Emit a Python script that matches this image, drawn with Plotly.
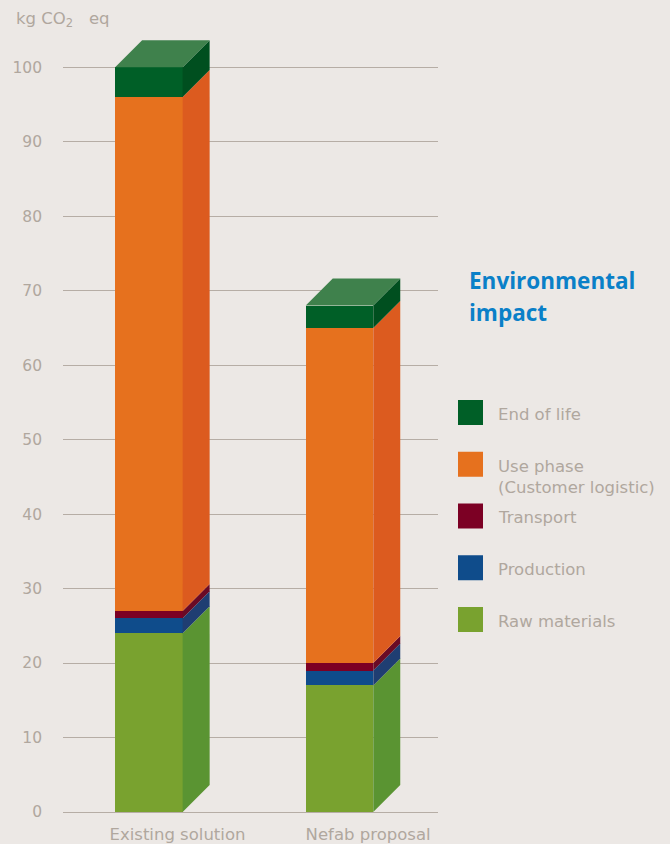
import plotly.graph_objects as go

# ---------------- data ----------------
categories = ["Existing solution", "Nefab proposal"]
components = ["Raw materials", "Production", "Transport",
              "Use phase<br>(Customer logistic)", "End of life"]
raw_materials = [24, 17]
production = [2, 2]
transport = [1, 1]
use_phase = [69, 45]
end_of_life = [4, 3]
y_tick_values = [0, 10, 20, 30, 40, 50, 60, 70, 80, 90, 100]

series = [raw_materials, production, transport, use_phase, end_of_life]

# ---------------- styles ----------------
front_colors = ["#79a22f", "#0f4c8b", "#7c0024", "#e6711e", "#005f27"]
side_colors = ["#5a9432", "#1f3e72", "#6a0a25", "#dc5b1f", "#004f1f"]
top_color = "#3f814c"
bg = "#ece8e5"
grid_col = "#b6ada5"
text_col = "#b0a79e"
title_col = "#0a80c8"
FONT = "DejaVu Sans"
TITLE_FONT = "Open Sans"

W, H = 670, 844
ML, MR, MT, MB = 63, 232, 30, 32
plot_w = W - ML - MR
plot_h = H - MT - MB
x_range = [-0.4507, 1.5168]
y_range = [0, 105]
px_per_x = plot_w / (x_range[1] - x_range[0])
px_per_y = plot_h / (y_range[1] - y_range[0])
bar_w = 67.5 / px_per_x
depth_x = 27 / px_per_x
depth_y = 27 / px_per_y
label_shift = 0.15

positions = list(range(len(categories)))

fig = go.Figure()

# front faces (stacked bars)
for name, vals, col in zip(components, series, front_colors):
    fig.add_trace(go.Bar(x=positions, y=vals, width=bar_w, name=name.replace("<br>", " "),
                         marker=dict(color=col, line=dict(width=0)),
                         showlegend=False, hoverinfo="skip"))

# side faces and top face (3D effect), computed from the data
for i, p in enumerate(positions):
    xr = p + bar_w / 2
    base = 0
    for vals, col in zip(series, side_colors):
        y0, y1 = base, base + vals[i]
        fig.add_trace(go.Scatter(
            x=[xr, xr + depth_x, xr + depth_x, xr, xr],
            y=[y0, y0 + depth_y, y1 + depth_y, y1, y0],
            fill="toself", fillcolor=col, mode="lines", line=dict(width=0, color=col),
            showlegend=False, hoverinfo="skip"))
        base = y1
    xl = p - bar_w / 2
    fig.add_trace(go.Scatter(
        x=[xl, xr, xr + depth_x, xl + depth_x, xl],
        y=[base, base, base + depth_y, base + depth_y, base],
        fill="toself", fillcolor=top_color, mode="lines", line=dict(width=0, color=top_color),
        showlegend=False, hoverinfo="skip"))


def px_x(px):
    return (px - ML) / plot_w


def px_y(py):
    return (H - MB - py) / plot_h


annotations = []
shapes = []

# axis unit label
annotations.append(dict(text="kg CO<sub>2</sub>&nbsp;&nbsp;&nbsp;eq", xref="paper", yref="paper",
                        x=px_x(14), y=px_y(20), xanchor="left", yanchor="middle",
                        showarrow=False, font=dict(family=FONT, size=16.5, color=text_col)))

# title
for line, cy in zip(["Environmental", "impact"], [280, 312]):
    annotations.append(dict(text=f"<b>{line}</b>", xref="paper", yref="paper",
                            x=px_x(467), y=px_y(cy), xanchor="left", yanchor="middle",
                            showarrow=False, font=dict(family=TITLE_FONT, size=22.5, color=title_col)))

# custom legend (top to bottom: End of life ... Raw materials)
sq_top0, sq_step, sq_size = 400, 51.75, 25
for k, idx in enumerate(reversed(range(len(components)))):
    top = sq_top0 + k * sq_step
    shapes.append(dict(type="rect", xref="paper", yref="paper",
                       x0=px_x(458), x1=px_x(458 + sq_size),
                       y0=px_y(top + sq_size), y1=px_y(top),
                       fillcolor=front_colors[idx], line=dict(width=0)))
    n_lines = components[idx].count("<br>") + 1
    cy = top + sq_size / 2 + 1.5 + (n_lines - 1) * 21.5 / 2
    annotations.append(dict(text=components[idx], xref="paper", yref="paper",
                            x=px_x(496), y=px_y(cy), xanchor="left", yanchor="middle",
                            align="left", showarrow=False,
                            font=dict(family=FONT, size=16.5, color=text_col)))

fig.update_layout(
    width=W, height=H, autosize=False,
    margin=dict(l=ML, r=MR, t=MT, b=MB, pad=0, autoexpand=False),
    paper_bgcolor=bg, plot_bgcolor=bg,
    barmode="stack", bargap=0,
    showlegend=False,
    annotations=annotations, shapes=shapes,
    xaxis=dict(range=x_range, tickvals=[p + label_shift for p in positions],
               ticktext=categories, showgrid=False, zeroline=False, showline=False,
               ticks="", tickfont=dict(family=FONT, size=16.5, color=text_col),
               ticklabelstandoff=10, automargin=False, fixedrange=True),
    yaxis=dict(range=y_range, tickvals=y_tick_values, showgrid=True, gridcolor=grid_col,
               gridwidth=1.3, zeroline=True, zerolinecolor=grid_col, zerolinewidth=1.3,
               showline=False, ticks="", ticklabelstandoff=20, automargin=False,
               tickfont=dict(family=FONT, size=15.5, color=text_col), fixedrange=True),
)

page_css = ("var s=document.createElement('style');"
            "s.textContent='html,body{margin:0;padding:0;overflow:hidden;height:%dpx;background:%s}';"
            "document.head.appendChild(s);" % (H, bg))
fig.write_html("out.html", config={"displayModeBar": False}, post_script=page_css)
